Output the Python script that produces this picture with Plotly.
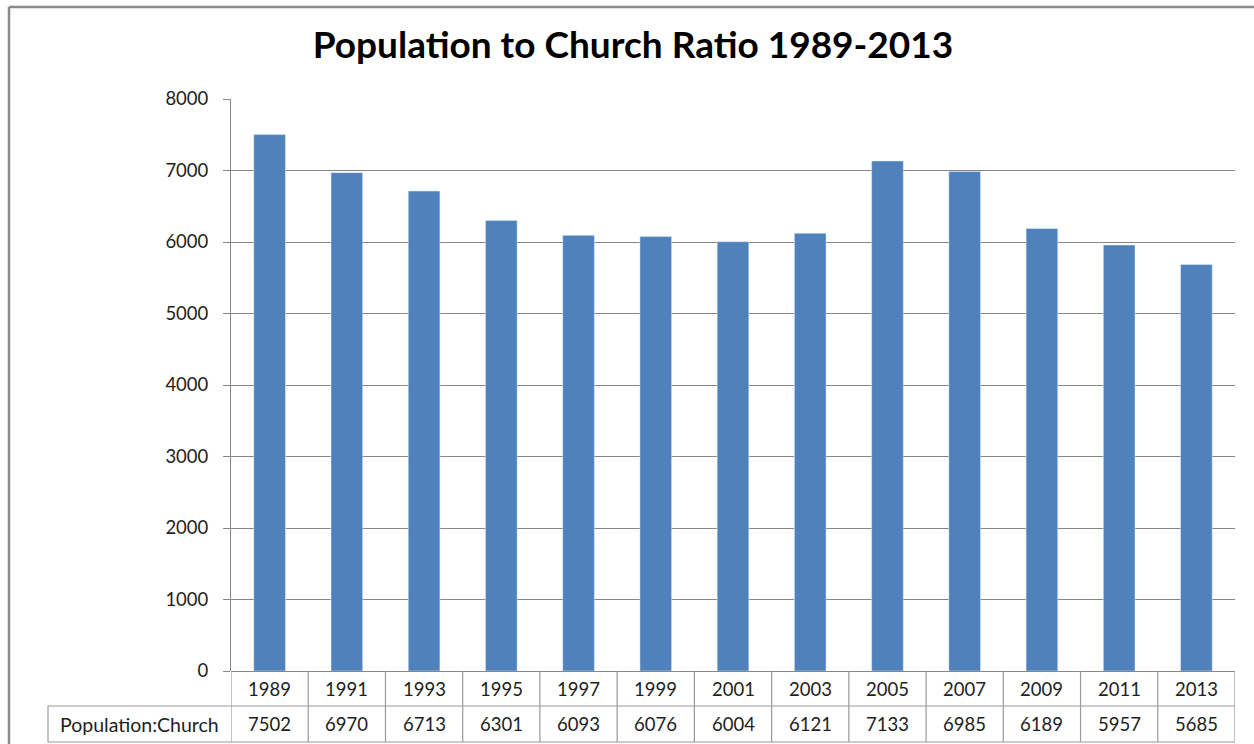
import plotly.graph_objects as go

years = ["1989", "1991", "1993", "1995", "1997", "1999", "2001", "2003", "2005", "2007", "2009", "2011", "2013"]
ratio = [7502, 6970, 6713, 6301, 6093, 6076, 6004, 6121, 7133, 6985, 6189, 5957, 5685]
series_name = "Population:Church"
title_text = "Population to Church Ratio 1989-2013"

W, H = 1254, 744
px = lambda x: x / W
py = lambda y: (H - y) / H

x0, x1 = px(231), px(1235)
y_top, y_zero = py(99), py(671)
row1_bot = py(706)
row2_bot = py(742)
tbl_left = px(48)

line_col = "#9a9a9a"
grid_col = "#878787"
FONT = "Lato, 'Open Sans', sans-serif"
TXT = "#1e1e1e"

fig = go.Figure()
fig.add_trace(go.Bar(x=years, y=ratio, marker_color="#4F81BD", width=0.41, name=series_name))

shapes = []
# outer border
shapes.append(dict(type="line", xref="paper", yref="paper", x0=px(9), x1=1.02, y0=py(7), y1=py(7),
                   line=dict(color="#8a8a8a", width=2.5)))
shapes.append(dict(type="line", xref="paper", yref="paper", x0=px(9), x1=px(9), y0=py(7), y1=-0.02,
                   line=dict(color="#8a8a8a", width=2.5)))
# table horizontal lines
for yy in (row1_bot, row2_bot):
    shapes.append(dict(type="line", xref="paper", yref="paper", x0=tbl_left, x1=x1, y0=yy, y1=yy,
                       line=dict(color=line_col, width=1.2)))
# left edge of label cell
shapes.append(dict(type="line", xref="paper", yref="paper", x0=tbl_left, x1=tbl_left, y0=row1_bot, y1=row2_bot,
                   line=dict(color=line_col, width=1.2)))
# vertical boundaries between categories
for i in range(len(years) + 1):
    shapes.append(dict(type="line", xref="x", yref="paper", x0=i - 0.5, x1=i - 0.5, y0=y_zero, y1=row2_bot,
                       line=dict(color=line_col, width=1.2)))

annotations = []
for i, (yr, v) in enumerate(zip(years, ratio)):
    annotations.append(dict(x=i, y=(y_zero + row1_bot) / 2, xref="x", yref="paper", text=yr, showarrow=False,
                            font=dict(size=18.5, color=TXT, family=FONT), xanchor="center", yanchor="middle"))
    annotations.append(dict(x=i, y=(row1_bot + row2_bot) / 2, xref="x", yref="paper", text=str(v), showarrow=False,
                            font=dict(size=18.5, color=TXT, family=FONT), xanchor="center", yanchor="middle"))
annotations.append(dict(x=(tbl_left + x0) / 2, y=(row1_bot + row2_bot) / 2, xref="paper", yref="paper",
                        text=series_name, showarrow=False, font=dict(size=19.5, color=TXT, family=FONT),
                        xanchor="center", yanchor="middle"))

fig.update_layout(
    width=W, height=H,
    margin=dict(l=0, r=0, t=0, b=0, autoexpand=False),
    paper_bgcolor="white", plot_bgcolor="white",
    showlegend=False,
    title=dict(text="<b>" + title_text + "</b>", x=px(633), y=py(45), xanchor="center", yanchor="middle",
               font=dict(size=37, color="black", family=FONT)),
    xaxis=dict(domain=[x0, x1], showticklabels=False, ticks="", showgrid=False, zeroline=False,
               showline=False, range=[-0.5, len(years) - 0.5], type="category", automargin=False),
    yaxis=dict(domain=[y_zero, y_top], range=[0, 8000], dtick=1000, showgrid=True, gridcolor=grid_col,
               gridwidth=1, zeroline=True, zerolinecolor=grid_col, zerolinewidth=1, automargin=False,
               showline=True, linecolor=grid_col, linewidth=1, ticks="outside", ticklen=7, tickcolor=grid_col,
               tickfont=dict(size=18.5, color=TXT, family=FONT), ticklabelstandoff=11),
    shapes=shapes,
    annotations=annotations,
)

fig.write_html("out.html")
